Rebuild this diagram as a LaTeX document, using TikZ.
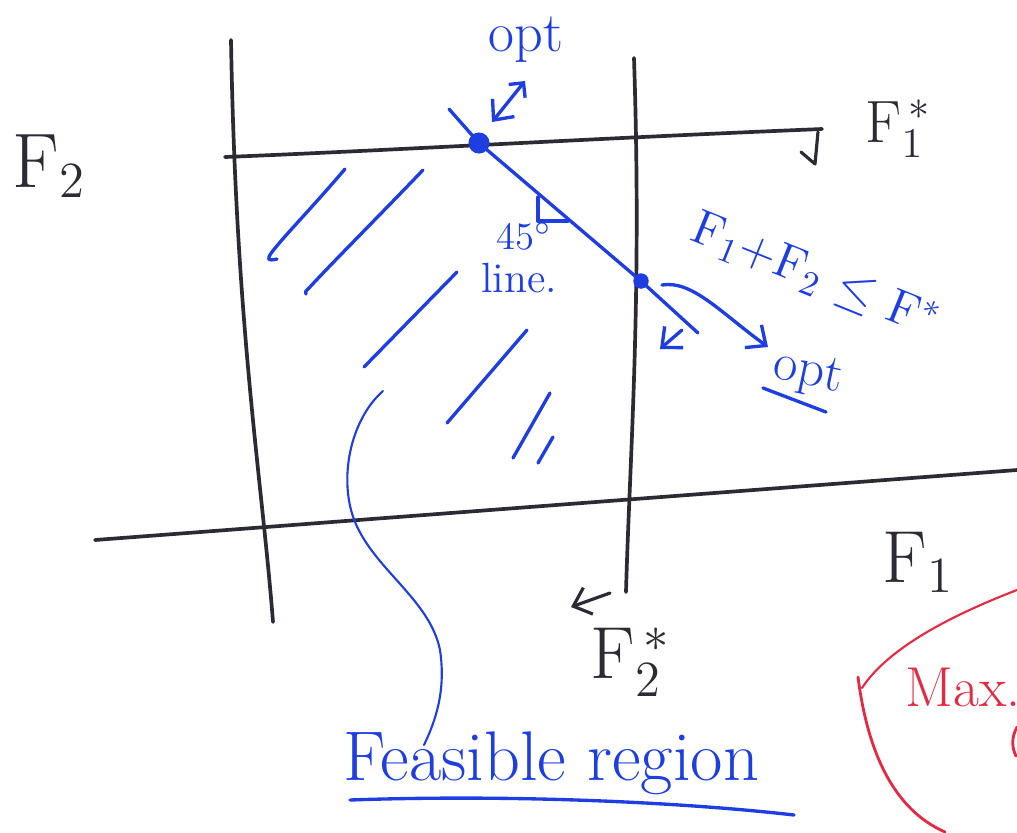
\documentclass[tikz,border=0pt]{standalone}
\usetikzlibrary{arrows.meta}
\definecolor{ink}{RGB}{45,42,52}
\definecolor{pen}{RGB}{30,62,226}
\definecolor{redpen}{RGB}{228,42,66}
\begin{document}
\begin{tikzpicture}[x=0.01cm,y=-0.01cm,line cap=round,line join=round,
  blk/.style={draw=ink,line width=1.05pt},
  blu/.style={draw=pen,line width=0.95pt},
  thinblu/.style={draw=pen,line width=0.6pt},
  redline/.style={draw=redpen,line width=0.6pt},
  barb/.style={-{Straight Barb[length=4.5pt,width=8pt]}},
  dbarb/.style={{Straight Barb[length=3pt,width=6pt]}-{Straight Barb[length=4.5pt,width=8pt]}},
  klab/.style={text=ink,inner sep=0pt},
  blab/.style={text=pen,inner sep=0pt},
  rlab/.style={text=redpen,inner sep=0pt}]
\useasboundingbox (0,0) rectangle (1017,832);
\fill[white] (0,0) rectangle (1017,832);

% black axes / constraint lines
\draw[blk] (231,40) .. controls (236,330) and (262,480) .. (273,622);
\draw[blk] (634,58) .. controls (642,300) and (630,450) .. (626,592);
\draw[blk] (225,157) .. controls (400,150) and (600,138) .. (822,129);
\draw[blk] (95,540) -- (1017,470);

% small black arrows
\coordinate (d1) at (818,132);
\coordinate (d2) at (815,164);
\coordinate (d3) at (801,152);
\draw[blk,line width=0.9pt] (d1) -- (d2) -- (d3);
\coordinate (l1) at (610,593);
\coordinate (l2) at (571,607);
\draw[blk,line width=0.9pt,barb] (l1) -- (l2);

% black labels
\node[klab,anchor=base west,font=\fontsize{22}{24}\selectfont] (f2) at (12,187) {F$_2$};
\node[klab,anchor=base west,font=\fontsize{17}{20}\selectfont] (f1s) at (865,142) {F$_1^{\,*}$};
\node[klab,anchor=base west,font=\fontsize{21}{24}\selectfont] (f1) at (882,582) {F$_1$};
\node[klab,anchor=base west,font=\fontsize{21}{24}\selectfont] (f2s) at (590,678) {F$_2^{\,*}$};

% 45 degree line
\coordinate (optpt) at (479,143);
\coordinate (cut) at (641,281);
\draw[blu] (449,109) -- (optpt) -- (cut) -- (698,333);
\fill[pen] (optpt) circle[radius=3pt];
\fill[pen] (cut) circle[radius=2.2pt];
\draw[blu] (538,197) -- (538,221) -- (568,221);
\node[blab,font=\fontsize{11}{13}\selectfont] (deg) at (524,236) {45$^\circ$};
\node[blab,font=\fontsize{12}{14}\selectfont] (line) at (519,278) {line.};

% top opt label
\node[blab,font=\fontsize{16}{19}\selectfont] (opttop) at (526,40) {opt};
\coordinate (oa) at (525,81);
\coordinate (ob) at (492,122);
\draw[blu,dbarb] (oa) -- (ob);

% constraint label and arrows
\node[blab,font=\fontsize{14}{16}\selectfont,rotate=-22] (cons) at (815,276) {F$_1$+F$_2$ $\leq$ F$^{*}$};
\coordinate (ca) at (662,285);
\coordinate (cb) at (768,347);
\draw[blu,barb] (ca) .. controls (692,280) and (720,312) .. (cb);
\coordinate (sa) at (682,330);
\coordinate (sb) at (660,349);
\draw[blu,barb] (sa) -- (sb);
\node[blab,font=\fontsize{15}{18}\selectfont,rotate=-12] (optlow) at (808,374) {opt};
\coordinate (u1) at (763,388);
\coordinate (u2) at (826,412);
\draw[blu] (u1) -- (u2);

% hatching of feasible region
\draw[blu] (345,169) .. controls (310,210) and (285,235) .. (272,252) .. controls (266,260) and (268,261) .. (277,259);
\draw[blu] (423,170) .. controls (380,215) and (330,265) .. (309,288) .. controls (305,292) .. (306,294);
\draw[blu] (457,272) -- (364,367);
\draw[blu] (527,330) -- (447,423);
\draw[blu] (550,393) -- (513,458);
\draw[blu] (553,437) -- (538,463);

% feasible region label
\node[blab,anchor=base west,font=\fontsize{20}{24}\selectfont] (feas) at (343,780) {Feasible region};
\coordinate (fc) at (383,391);
\coordinate (fe) at (424,745);
\draw[thinblu] (fc) .. controls (350,420) and (338,480) .. (355,522) .. controls (375,570) and (430,600) .. (440,650) .. controls (446,690) and (436,720) .. (fe);
\coordinate (fu1) at (350,800);
\coordinate (fu2) at (794,815);
\draw[blu] (fu1) .. controls (520,794) and (690,803) .. (fu2);

% red annotation
\draw[redline] (1017,590) .. controls (960,612) and (890,645) .. (862,688);
\draw[redline,line width=0.8pt] (858,677) .. controls (868,755) and (895,810) .. (945,832);
\draw[redline,line width=0.8pt] (1017,727) .. controls (1011,738) and (1012,748) .. (1016,756);
\node[rlab,anchor=base west,font=\fontsize{16}{19}\selectfont] (maxl) at (905,706) {Max.};
\end{tikzpicture}
\end{document}
